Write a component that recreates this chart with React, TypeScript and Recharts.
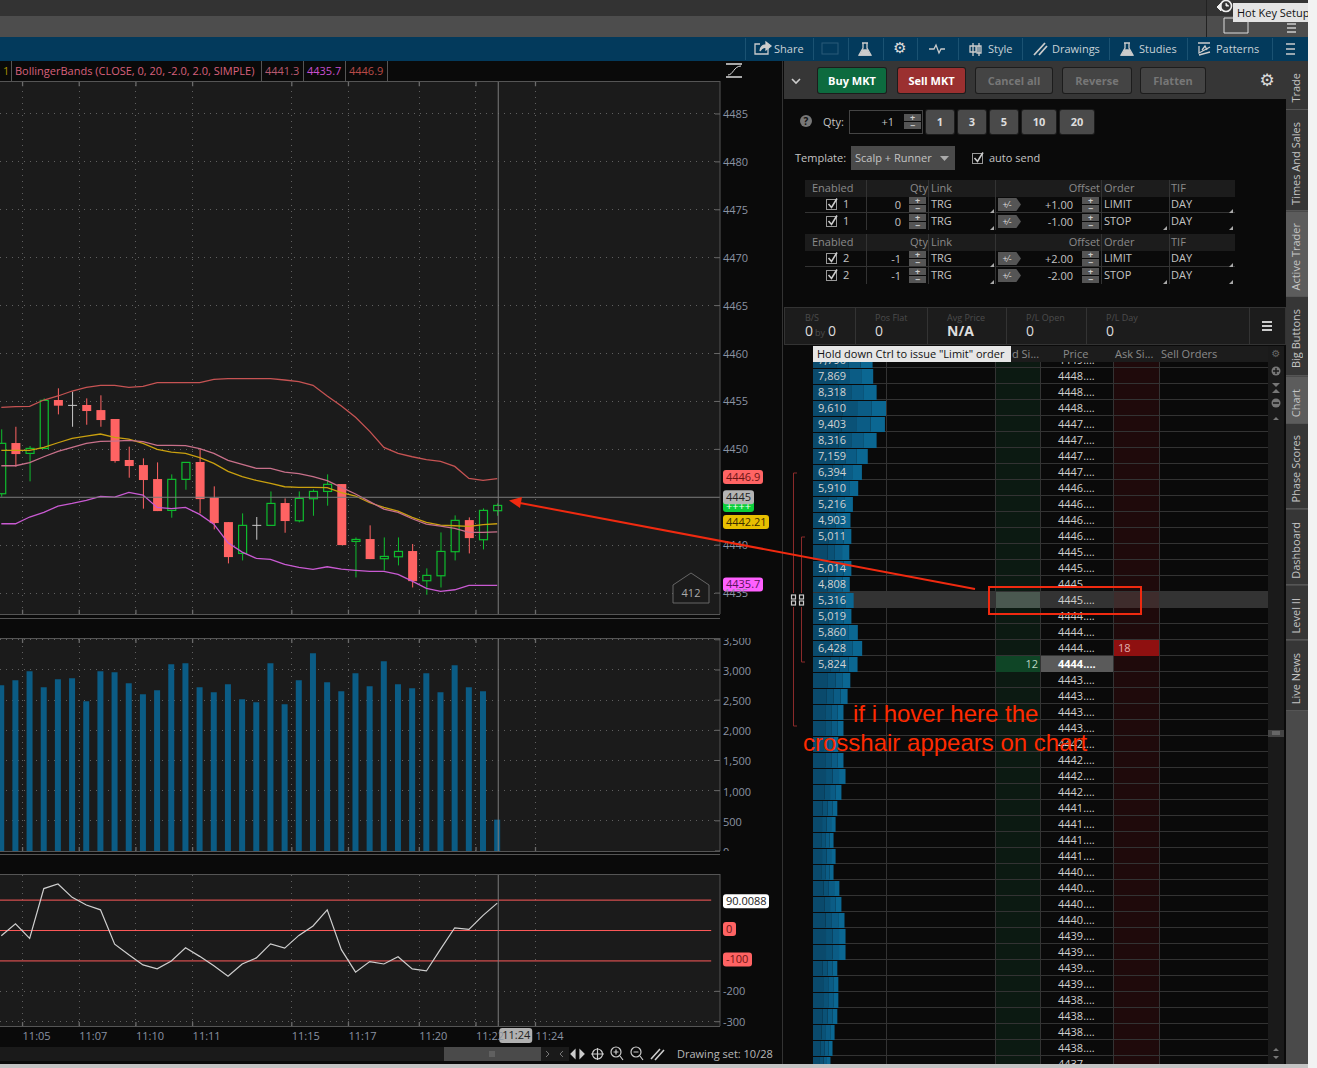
import React from "react";
import {
  Bar,
  BarChart,
  CartesianGrid,
  ComposedChart,
  Line,
  LineChart,
  ReferenceLine,
  XAxis,
  YAxis,
} from "recharts";

// candles
const opens = [4445.37, 4450.66, 4449.58, 4450.1, 4455.15, 4454.59, 4454.63, 4454.1, 4453.17, 4448.89, 4448.36, 4446.9, 4443.63, 4446.87, 4448.68, 4444.95, 4442.41, 4439.14, 4442.07, 4442.07, 4444.4, 4442.55, 4444.85, 4445.61, 4446.38, 4440.39, 4440.64, 4438.59, 4438.79, 4439.39, 4436.29, 4436.81, 4439.32, 4442.62, 4440.57, 4443.6];
const highs = [4452.09, 4452.36, 4450.35, 4455.32, 4456.37, 4456.02, 4455.32, 4455.64, 4453.17, 4450.28, 4449.06, 4448.64, 4447.39, 4448.64, 4450.1, 4446.14, 4442.41, 4443.32, 4442.94, 4445.61, 4444.88, 4445.61, 4445.82, 4447.39, 4446.38, 4440.81, 4442.07, 4440.81, 4440.81, 4440.12, 4437.58, 4441.33, 4443.11, 4442.9, 4443.84, 4444.36];
const lows = [4445.06, 4448.19, 4446.66, 4450.03, 4453.65, 4452.36, 4452.57, 4452.36, 4448.61, 4447.04, 4443.81, 4443.56, 4442.87, 4445.79, 4443.32, 4441.65, 4438.1, 4438.41, 4440.57, 4442.07, 4441.3, 4442.38, 4443.07, 4444.12, 4440.01, 4436.64, 4438.55, 4437.37, 4437.89, 4435.59, 4434.83, 4435.59, 4438.41, 4439.14, 4439.56, 4443.07];
const closes = [4450.63, 4449.51, 4450.1, 4455.11, 4454.56, 4454.59, 4454.0, 4453.06, 4448.78, 4448.26, 4446.8, 4443.56, 4446.87, 4448.64, 4444.81, 4442.31, 4438.76, 4442.07, 4442.07, 4444.36, 4442.52, 4444.88, 4445.61, 4446.35, 4440.01, 4440.6, 4438.55, 4438.83, 4439.35, 4436.25, 4436.85, 4439.35, 4442.59, 4440.74, 4443.63, 4444.15];

const upperBand = [4454.38, 4454.45, 4454.49, 4455.15, 4455.57, 4456.09, 4456.47, 4456.68, 4456.68, 4456.47, 4456.58, 4456.96, 4456.96, 4456.96, 4456.96, 4457.31, 4457.38, 4457.38, 4457.38, 4457.38, 4457.24, 4457.06, 4456.68, 4455.57, 4454.52, 4453.34, 4451.88, 4450.21, 4449.58, 4449.23, 4448.92, 4448.75, 4448.22, 4446.97, 4446.76, 4446.94];
const midBand = [4448.29, 4448.29, 4448.61, 4449.23, 4449.79, 4450.21, 4450.63, 4450.83, 4450.87, 4450.94, 4450.8, 4450.42, 4450.42, 4450.38, 4450.07, 4449.58, 4448.85, 4448.43, 4448.02, 4448.02, 4447.63, 4447.46, 4447.15, 4446.73, 4446.03, 4445.34, 4444.54, 4443.77, 4443.42, 4442.76, 4442.2, 4442.0, 4441.75, 4441.33, 4441.33, 4441.4];
const lowerBand = [4442.24, 4442.24, 4442.94, 4443.42, 4444.08, 4444.36, 4444.68, 4445.09, 4445.02, 4445.51, 4445.23, 4443.94, 4443.81, 4443.94, 4443.21, 4442.2, 4440.26, 4439.28, 4438.62, 4438.52, 4437.99, 4437.68, 4437.47, 4437.75, 4437.51, 4437.37, 4437.26, 4437.26, 4436.95, 4436.25, 4435.49, 4435.18, 4435.35, 4435.8, 4435.8, 4435.8];
const avgLine = [4449.89, 4449.89, 4449.89, 4450.21, 4450.69, 4451.15, 4451.39, 4451.6, 4451.25, 4451.08, 4450.63, 4450.0, 4449.72, 4449.58, 4449.13, 4448.54, 4447.7, 4447.15, 4446.76, 4446.45, 4446.1, 4446.03, 4446.03, 4446.0, 4445.48, 4445.13, 4444.43, 4443.94, 4443.56, 4442.9, 4442.38, 4442.1, 4442.03, 4441.96, 4442.14, 4442.24];

const volumes = [2746, 2829, 2979, 2713, 2846, 2863, 2481, 2979, 2962, 2780, 2597, 2663, 3095, 3112, 2713, 2630, 2763, 2514, 2464, 3112, 2431, 2829, 3278, 2796, 2647, 2946, 2730, 3145, 2763, 2696, 2946, 2630, 3079, 2713, 2647, 520];
const cciValues = [-17, 22, -26, 138, 153, 109, 84, 68, -45, -80, -113, -126, -100, -57, -85, -116, -150, -110, -90, -44, -58, -16, 15, 68, -63, -137, -102, -110, -86, -126, -133, -61, 9, 4, 50, 90.01];

const timeTicks = [1.5, 5.5, 9.5, 13.5, 20.5, 24.5, 29.5, 33.5, 37.7];
const timeLabels = ["11:05", "11:07", "11:10", "11:11", "11:15", "11:17", "11:20", "11:22", "11:24"];
const priceTicks = [4435, 4440, 4450, 4455, 4460, 4465, 4470, 4475, 4480, 4485];
const volumeTicks = [0, 500, 1000, 1500, 2000, 2500, 3000, 3500];
const cciTicks = [-300, -200];

// order book ladder, top row first
const depthValues = [7790, 7869, 8318, 9610, 9403, 8316, 7159, 6394, 5910, 5216, 4903, 5011, 4746, 5014, 4808, 5316, 5019, 5860, 6428, 5824, 4880, 4522, 3985, 3985, 3313, 3985, 4253, 3716, 3179, 2955, 2686, 2955, 2686, 3447, 3716, 4119, 4253, 4253, 3179, 3313, 3313, 3179, 2821, 2552, 2283];
const depthLabels = ["7,790", "7,869", "8,318", "9,610", "9,403", "8,316", "7,159", "6,394", "5,910", "5,216", "4,903", "5,011", "", "5,014", "4,808", "5,316", "5,019", "5,860", "6,428", "5,824"];
const ladderPrices = ["4449", "4448", "4448", "4448", "4447", "4447", "4447", "4447", "4446", "4446", "4446", "4446", "4445", "4445", "4445", "4445", "4444", "4444", "4444", "4444", "4443", "4443", "4443", "4443", "4442", "4442", "4442", "4442", "4441", "4441", "4441", "4441", "4440", "4440", "4440", "4440", "4439", "4439", "4439", "4439", "4438", "4438", "4438", "4438", "4437"];

const candleData = opens.map((open, i) => ({
  i,
  open,
  high: highs[i],
  low: lows[i],
  close: closes[i],
  upper: upperBand[i],
  mid: midBand[i],
  lower: lowerBand[i],
  avg: avgLine[i],
}));
const volumeData = volumes.map((v, i) => ({ i, v }));
const cciData = cciValues.map((v, i) => ({ i, v }));
const depthData = depthValues.map((v, k) => ({ k, v }));

const X_DOMAIN: [number, number] = [-0.092, 50.72];
const STUDY_LINE_END = 50.1;
const CURSOR_X = 35.07;
const PRICE_DOMAIN: [number, number] = [4432.82, 4488.44];
const VOLUME_DOMAIN: [number, number] = [0, 3530];
const CCI_DOMAIN: [number, number] = [-314, 185.9];
const FONT = "'Open Sans', sans-serif";
const AXIS_TEXT = "#8a93a3";
const GRID = "#606060";
const TICK = "#6a6a6a";
const PANEL = "#1b1b1b";
const LINE = "#555";

// the tick marks sit inside the plot, to the left of the axis line
const axisTick =
  (format: (v: number) => string, dy = 4) =>
  ({ x, y, payload }: any) =>
    (
      <g>
        <line x1={x - 8} x2={x - 3} y1={y} y2={y} stroke={TICK} />
        <text x={x} y={y + dy} fontSize={11} fontFamily={FONT} fill={AXIS_TEXT}>
          {format(payload.value)}
        </text>
      </g>
    );

// dotted time guides plus short stubs on the panel edges; stub lengths are in axis units
const timeGuides = (domain: [number, number], topStub: number, bottomStub: number) =>
  timeTicks.map((t) => (
    <React.Fragment key={t}>
      <ReferenceLine x={t} stroke={GRID} strokeDasharray="1 5" shapeRendering="crispEdges" />
      {topStub > 0 && (
        <ReferenceLine
          segment={[
            { x: t, y: domain[1] },
            { x: t, y: domain[1] - topStub },
          ]}
          stroke={TICK}
          strokeWidth={1.3}
        />
      )}
      {bottomStub > 0 && (
        <ReferenceLine
          segment={[
            { x: t, y: domain[0] },
            { x: t, y: domain[0] + bottomStub },
          ]}
          stroke={TICK}
          strokeWidth={1.3}
        />
      )}
    </React.Fragment>
  ));

function CandleShape(props: any) {
  const { x, y, width, height, payload } = props;
  const unit = height / (payload.high - payload.low);
  const cx = x + width / 2;
  const top = y + (payload.high - Math.max(payload.open, payload.close)) * unit;
  const bottom = y + (payload.high - Math.min(payload.open, payload.close)) * unit;
  const isDoji = payload.open === payload.close;
  const isUp = payload.close > payload.open;
  const color = isDoji ? "#c8c8c8" : isUp ? "#0fbd2e" : "#ff6363";
  return (
    <g>
      <line x1={cx} x2={cx} y1={y} y2={y + height} stroke={color} strokeWidth={1} />
      {isDoji ? (
        <line x1={x} x2={x + width} y1={top} y2={top} stroke={color} strokeWidth={1} />
      ) : isUp ? (
        <rect x={x + 0.5} y={top} width={width - 1} height={bottom - top} fill={PANEL} stroke={color} strokeWidth={1.2} />
      ) : (
        <rect x={x} y={top} width={width} height={bottom - top} fill={color} />
      )}
    </g>
  );
}

// depth bars get darker towards the left
function DepthShape(props: any) {
  const { x, y, width, height } = props;
  const parts = [
    [0, 0.4, "#0a4a6c"],
    [0.4, 0.2, "#0a5277"],
    [0.6, 0.2, "#0b5c85"],
    [0.8, 0.2, "#0b6792"],
  ] as const;
  return (
    <g>
      {parts.map(([from, w, fill]) => (
        <rect key={from} x={x + from * width} y={y} width={w * width} height={height} fill={fill} />
      ))}
    </g>
  );
}

const badge =
  (text: string, bg: string, fg: string, w: number, dy = 0, h = 14) =>
  ({ viewBox }: any) => {
    const bx = viewBox.x + viewBox.width + 3;
    const by = viewBox.y + dy;
    return (
      <g>
        <rect x={bx} y={by - h / 2} width={w} height={h} rx={3} fill={bg} />
        <text x={bx + 3} y={by + 4} fontSize={11} fontFamily={FONT} fill={fg}>
          {text}
        </text>
      </g>
    );
  };

function TimeTick({ x, y, payload }: any) {
  return (
    <text x={x} y={y + 12} fontSize={11} fontFamily={FONT} fill={AXIS_TEXT}>
      {timeLabels[timeTicks.indexOf(payload.value)]}
    </text>
  );
}

function CursorBadge({ viewBox }: any) {
  return (
    <g>
      <rect x={viewBox.x + 1} y={viewBox.y + viewBox.height + 2} width={33} height={15} rx={3} fill="#b0b0b0" />
      <text x={viewBox.x + 4} y={viewBox.y + viewBox.height + 13} fontSize={11} fontFamily={FONT} fill="#222">
        11:24
      </text>
    </g>
  );
}

const gridProps = {
  stroke: GRID,
  strokeDasharray: "1 5",
  shapeRendering: "crispEdges",
  vertical: false,
};

function PriceChart() {
  return (
    <ComposedChart width={782} height={533} data={candleData} margin={{ top: 0, right: 0, bottom: 0, left: 0 }}>
      <CartesianGrid {...gridProps} />
      <XAxis dataKey="i" type="number" domain={X_DOMAIN} ticks={timeTicks} hide allowDataOverflow />
      <YAxis orientation="right" width={62} domain={PRICE_DOMAIN} ticks={priceTicks} interval={0} tick={axisTick(String)} tickSize={3} tickMargin={0} tickLine={false} axisLine={{ stroke: LINE }} allowDataOverflow />
      {timeGuides(PRICE_DOMAIN, 0.55, 0.45)}
      <Bar dataKey={(d: any) => [d.low, d.high]} barSize={9} shape={CandleShape} isAnimationActive={false} />
      <Line dataKey="upper" stroke="#c65353" strokeWidth={1.3} dot={false} isAnimationActive={false} />
      <Line dataKey="avg" stroke="#c9a00f" strokeWidth={1.3} dot={false} isAnimationActive={false} />
      <Line dataKey="mid" stroke="#c8708a" strokeWidth={1.3} dot={false} isAnimationActive={false} />
      <Line dataKey="lower" stroke="#c95ad2" strokeWidth={1.3} dot={false} isAnimationActive={false} />
      <ReferenceLine x={CURSOR_X} stroke="#7c7c7c" />
      <ReferenceLine y={4444.15} stroke="none" label={badge("++++", "#0bcf3a", "#f0fff0", 31, 0.5, 12)} />
      <ReferenceLine y={4445} stroke="#7c7c7c" label={badge("4445", "#b4b4b4", "#222", 31)} />
      <ReferenceLine y={4446.9} stroke="none" label={badge("4446.9", "#ff6464", "#6e1414", 40, -2)} />
      <ReferenceLine y={4442.21} stroke="none" label={badge("4442.21", "#e8c000", "#3a2c00", 46, -2)} />
      <ReferenceLine y={4435.7} stroke="none" label={badge("4435.7", "#ff60ff", "#5a145a", 40, -2)} />
    </ComposedChart>
  );
}

function VolumeChart() {
  return (
    <BarChart width={782} height={213} data={volumeData} margin={{ top: 0, right: 0, bottom: 0, left: 0 }}>
      <CartesianGrid {...gridProps} />
      <XAxis dataKey="i" type="number" domain={X_DOMAIN} ticks={timeTicks} hide allowDataOverflow />
      <YAxis orientation="right" width={62} domain={VOLUME_DOMAIN} ticks={volumeTicks} interval={0} tick={axisTick((v) => v.toLocaleString("en-US"), 5)} tickSize={3} tickMargin={0} tickLine={false} axisLine={{ stroke: LINE }} allowDataOverflow />
      {timeGuides(VOLUME_DOMAIN, 83, 66)}
      <Bar dataKey="v" barSize={6} fill="#0b5c85" isAnimationActive={false} />
      <ReferenceLine x={CURSOR_X} stroke="#7c7c7c" />
    </BarChart>
  );
}

const studyLine = (y: number): any => [
  { x: X_DOMAIN[0], y },
  { x: STUDY_LINE_END, y },
];

function CciChart() {
  return (
    <LineChart width={782} height={172} data={cciData} margin={{ top: 0, right: 0, bottom: 0, left: 0 }}>
      <CartesianGrid {...gridProps} />
      <XAxis dataKey="i" type="number" domain={X_DOMAIN} ticks={timeTicks} interval={0} height={20} tick={TimeTick} axisLine={false} tickLine={false} tickSize={0} allowDataOverflow />
      <YAxis orientation="right" width={62} domain={CCI_DOMAIN} ticks={cciTicks} interval={0} tick={axisTick(String)} tickSize={3} tickMargin={0} tickLine={false} axisLine={{ stroke: LINE }} allowDataOverflow />
      {timeGuides(CCI_DOMAIN, 0, 13)}
      <ReferenceLine segment={studyLine(100)} stroke="#ff5a5a" />
      <ReferenceLine segment={studyLine(0)} stroke="#ff5a5a" />
      <ReferenceLine segment={studyLine(-100)} stroke="#ff5a5a" />
      <ReferenceLine y={0} stroke="none" label={badge("0", "#ff6363", "#6e1414", 13, -1.5)} />
      <ReferenceLine y={-100} stroke="none" label={badge("-100", "#ff6363", "#6e1414", 29, -1.5)} />
      <ReferenceLine y={90.01} stroke="none" label={badge("90.0088", "#fff", "#222", 46, -2)} />
      <Line dataKey="v" stroke="#cfcfcf" strokeWidth={1.2} dot={false} isAnimationActive={false} />
      <ReferenceLine x={CURSOR_X} stroke="#7c7c7c" label={CursorBadge} />
    </LineChart>
  );
}

function DepthChart() {
  return (
    <BarChart layout="vertical" width={76.5} height={720} data={depthData} barCategoryGap={0} margin={{ top: 0, right: 0, bottom: 0, left: 0 }}>
      <XAxis type="number" domain={[0, 10000]} hide allowDataOverflow />
      <YAxis type="category" dataKey="k" hide />
      <Bar dataKey="v" barSize={15} shape={DepthShape} isAnimationActive={false} />
    </BarChart>
  );
}

// plain page furniture
function Box({ x, y, w, h, bg, style, children }: any) {
  return <div style={{ position: "absolute", left: x, top: y, width: w, height: h, background: bg, ...style }}>{children}</div>;
}

function Txt({ x, y, c = "#c4c4c4", size = 11, bold, right, center, font, children, style }: any) {
  const pos: any = right !== undefined ? { right: 1317 - right } : { left: x };
  const tx = center ? "translate(-50%,-50%)" : "translateY(-50%)";
  return (
    <div
      style={{
        position: "absolute",
        top: y - 1,
        ...pos,
        transform: tx,
        color: c,
        fontSize: size,
        fontWeight: bold ? 700 : 400,
        fontFamily: font || FONT,
        whiteSpace: "nowrap",
        lineHeight: 1,
        ...style,
      }}
    >
      {children}
    </div>
  );
}

function Btn({ x, y, w, h, bg, c, label, size = 11 }: any) {
  return (
    <>
      <Box x={x} y={y} w={w} h={h} bg={bg} style={{ borderRadius: 2, boxShadow: "0 0 0 1px #1c1c1c" }} />
      <Txt x={x + w / 2} y={y + h / 2} center c={c} bold size={size}>
        {label}
      </Txt>
    </>
  );
}

function Stepper({ x, y, w = 17 }: any) {
  return (
    <>
      <Box x={x} y={y} w={w} h={7} bg="#555" />
      <Box x={x} y={y + 8} w={w} h={7} bg="#555" />
      <Txt x={x + w / 2} y={y + 4} center size={9} bold c="#ccc">+</Txt>
      <Txt x={x + w / 2} y={y + 12} center size={9} bold c="#ccc">−</Txt>
    </>
  );
}

function Corner({ x, y }: any) {
  return <Box x={x} y={y} w={4} h={4} bg="#aaa" style={{ clipPath: "polygon(100% 0,100% 100%,0 100%)" }} />;
}

function Check({ x, y }: any) {
  return (
    <svg style={{ position: "absolute", left: x, top: y }} width={14} height={14}>
      <rect x={0.5} y={2.5} width={10} height={10} fill="none" stroke="#999" />
      <path d="M2.5 7 L5.5 10.5 L11 1.5" fill="none" stroke="#ccc" strokeWidth={1.6} />
    </svg>
  );
}

const orderRows = [
  { y: 204, n: "1", qty: "0", offset: "+1.00", order: "LIMIT" },
  { y: 221, n: "1", qty: "0", offset: "-1.00", order: "STOP" },
  { y: 258, n: "2", qty: "-1", offset: "+2.00", order: "LIMIT" },
  { y: 275, n: "2", qty: "-1", offset: "-2.00", order: "STOP" },
];
const tableHeads = [180, 234];
const columnLines = [866, 928, 995, 1101, 1169];

function OrderTable() {
  return (
    <>
      {tableHeads.map((y) => (
        <React.Fragment key={y}>
          <Box x={805} y={y} w={430} h={17} bg="#1c1c1c" />
          <Txt x={812} y={y + 8} c="#8a8a8a">Enabled</Txt>
          <Txt right={928} y={y + 8} c="#8a8a8a">Qty</Txt>
          <Txt x={931} y={y + 8} c="#8a8a8a">Link</Txt>
          <Txt right={1100} y={y + 8} c="#8a8a8a">Offset</Txt>
          <Txt x={1104} y={y + 8} c="#8a8a8a">Order</Txt>
          <Txt x={1171} y={y + 8} c="#8a8a8a">TIF</Txt>
          {columnLines.map((x) => (
            <Box key={x} x={x} y={y} w={1} h={50} bg="#333" />
          ))}
          <Box x={805} y={y + 32} w={430} h={1} bg="#333" />
        </React.Fragment>
      ))}
      {orderRows.map((r) => (
        <React.Fragment key={r.y}>
          <Check x={826} y={r.y - 7} />
          <Txt x={843} y={r.y}>{r.n}</Txt>
          <Txt right={901} y={r.y + 1}>{r.qty}</Txt>
          <Stepper x={909} y={r.y - 7} />
          <Txt x={931} y={r.y}>TRG</Txt>
          <Corner x={990} y={r.y + 5} />
          <Box x={998} y={r.y - 6} w={23} h={13} bg="#555" style={{ clipPath: "polygon(0 0,80% 0,100% 50%,80% 100%,0 100%)" }} />
          <Txt x={1007} y={r.y + 1} center size={9} c="#ddd">+⁄-</Txt>
          <Txt right={1073} y={r.y + 1}>{r.offset}</Txt>
          <Stepper x={1082} y={r.y - 7} />
          <Txt x={1104} y={r.y}>{r.order}</Txt>
          {r.order === "STOP" && <Corner x={1163} y={r.y + 5} />}
          <Txt x={1171} y={r.y}>DAY</Txt>
          <Corner x={1229} y={r.y + 5} />
        </React.Fragment>
      ))}
    </>
  );
}

function Ladder() {
  return (
    <>
      <Box x={813} y={346} w={455} h={16} bg="#1c1c1c" />
      <Txt x={1012} y={354} c="#8a8a8a">d Si...</Txt>
      <Txt x={1063} y={354} c="#8a8a8a">Price</Txt>
      <Txt x={1115} y={354} c="#8a8a8a">Ask Si...</Txt>
      <Txt x={1161} y={354} c="#8a8a8a">Sell Orders</Txt>
      <Box x={813} y={362} w={455} h={702} bg="#0a0a0a" style={{ overflow: "hidden" }}>
        <Box x={182} y={0} w={45} h={702} bg="#0c1a12" />
        <Box x={300} y={0} w={46} h={702} bg="#1f0a0b" />
        {depthValues.map((_, k) => (
          <Box key={k} x={0} y={-10 + 16 * k} w={455} h={16} style={{ borderBottom: "1px solid #333", boxSizing: "border-box" }} />
        ))}
        <Box x={0} y={230} w={455} h={16} bg="#333" />
        <Box x={182} y={230} w={45} h={16} bg="#4a5850" />
        <Box x={300} y={230} w={46} h={16} bg="#3e2c2c" />
        <Box x={301} y={278} w={45} h={16} bg="#8f1010" />
        <Box x={182} y={294} w={45} h={16} bg="#0f4526" />
        <Box x={228} y={294} w={72} h={16} bg="#5a5a5a" />
        <div style={{ position: "absolute", left: 0, top: -10 }}>
          <DepthChart />
        </div>
        {[73, 182, 227, 300, 346].map((x) => (
          <Box key={x} x={x} y={0} w={1} h={702} bg="#333" />
        ))}
        {depthLabels.map((t, k) => (
          <Txt key={k} x={5} y={-2 + 16 * k} c="#d2d2d2">{t}</Txt>
        ))}
        {ladderPrices.map((p, k) => (
          <Txt key={k} x={245} y={-2 + 16 * k} bold={k === 19} c={k === 19 ? "#fff" : "#cfcfcf"}>{p + "...."}</Txt>
        ))}
        <Txt x={305} y={286} c="#e0b0b0">18</Txt>
        <Txt right={225 + 1317 - 455} y={302} c="#bcd8c4">12</Txt>
      </Box>
      <Box x={813} y={346} w={198} h={16} bg="#e6e6e6" />
      <Txt x={817} y={354} c="#111">Hold down Ctrl to issue "Limit" order</Txt>
    </>
  );
}

const sideTabs = [
  { label: "Trade", top: 61, h: 49 },
  { label: "Times And Sales", top: 110, h: 101 },
  { label: "Active Trader", top: 212, h: 85, active: true },
  { label: "Big Buttons", top: 297, h: 79 },
  { label: "Chart", top: 377, h: 47, active: true },
  { label: "Phase Scores", top: 424, h: 85 },
  { label: "Dashboard", top: 510, h: 75 },
  { label: "Level II", top: 586, h: 54 },
  { label: "Live News", top: 641, h: 70 },
];

function SideTabs() {
  return (
    <>
      <Box x={1286} y={61} w={22} h={1003} bg="#4a4a4a" />
      {sideTabs.map((t) => (
        <Box key={t.label} x={1286} y={t.top} w={22} h={t.h} bg={t.active ? "#5c5c5c" : "#363636"} style={{ borderBottom: "1px solid #555", boxSizing: "border-box", display: "flex", alignItems: "center", justifyContent: "center", paddingTop: 6, paddingRight: 3 }}>
          <span style={{ writingMode: "vertical-rl", transform: "rotate(180deg)", color: "#c4c4c4", fontFamily: FONT, fontSize: 11, whiteSpace: "nowrap" }}>{t.label}</span>
        </Box>
      ))}
    </>
  );
}

const toolbarSeps = [745, 813, 848, 883, 917, 958, 1022, 1109, 1187, 1272];
const toolbarLabels = [
  { x: 774, t: "Share" },
  { x: 988, t: "Style" },
  { x: 1052, t: "Drawings" },
  { x: 1139, t: "Studies" },
  { x: 1216, t: "Patterns" },
];
const panelLines = [81, 614, 618, 638, 851, 854, 874, 1026];
const legendCells = [
  { x: 3, t: "1", c: "#a89000" },
  { x: 15, t: "BollingerBands (CLOSE, 0, 20, -2.0, 2.0, SIMPLE)", c: "#d8607c" },
  { x: 265, t: "4441.3", c: "#b85a70" },
  { x: 307, t: "4435.7", c: "#c850d0" },
  { x: 349, t: "4446.9", c: "#b84a48" },
];
const legendLines = [11, 261, 303, 345, 387];
const qtyButtons = [
  { x: 926, w: 28, t: "1" },
  { x: 958, w: 28, t: "3" },
  { x: 990, w: 28, t: "5" },
  { x: 1022, w: 34, t: "10" },
  { x: 1060, w: 34, t: "20" },
];
const posCells = [
  { x: 805, head: "B/S" },
  { x: 875, head: "Pos Flat", val: "0" },
  { x: 947, head: "Avg Price", val: "N/A", bold: true },
  { x: 1026, head: "P/L Open", val: "0" },
  { x: 1106, head: "P/L Day", val: "0" },
];

function Icons() {
  return (
    <svg width={1317} height={1068} style={{ position: "absolute", left: 0, top: 0 }}>
      {/* chart top right */}
      <g stroke="#ddd" fill="none">
        <path d="M726 64 H742 M726 77 H742" strokeWidth={1.4} />
        <path d="M728 75 C733 75 734 66 741 66" />
      </g>
      {/* toolbar */}
      <g stroke="#ccc" fill="none" strokeWidth={1.3}>
        <path d="M768 47 V54 H755 V44 H760" />
        <path d="M760 51 C760 47 763 45 766 45 V42 L771 46 L766 50 V47 C763 47 761 49 760 51 Z" fill="#ccc" />
        <path d="M862 43 H868 M863 43 V48 L859 55 H871 L867 48 V43" />
        <path d="M860 55 L863 50 H867 L870 55 Z" fill="#ccc" />
        <path d="M929 49 H934 L936 45 L939 53 L941 49 H945" />
        <path d="M973 43 V56 M973 46 H970 V52 H976 V46 Z" />
        <path d="M979 43 V56 M977 46 H981 V53 H977 Z" />
        <path d="M1034 55 L1045 43 M1039 55 L1047 46" strokeWidth={1.8} />
        <path d="M1124 43 H1130 M1125 43 V48 L1121 55 H1133 L1129 48 V43" />
        <path d="M1122 55 L1125 50 H1129 L1132 55 Z" fill="#ccc" />
        <path d="M1198 43 H1210 M1199 46 V53 L1210 47 M1199 55 L1210 52 M1202 50 L1205 46 L1207 50" />
        <path d="M1286 44 H1295 M1286 49 H1295 M1286 54 H1295" strokeWidth={1.6} />
      </g>
      <rect x={822} y={43} width={16} height={11} fill="none" stroke="#2a5a78" />
      <path d="M1224 18 H1248 V33 H1224 Z" fill="none" stroke="#ddd" />
      <path d="M1287 24 H1296 M1287 28 H1296 M1287 32 H1296" stroke="#ccc" strokeWidth={1.4} />
      <circle cx={1226} cy={6} r={5.5} fill="none" stroke="#eee" strokeWidth={1.6} />
      <path d="M1226 3 V6 H1229 M1217 7 L1221 3 L1221 11 Z" stroke="#eee" fill="#eee" />
      {/* brackets next to the ladder */}
      <g stroke="#8a2a2a" fill="none">
        <path d="M797 473 H793.5 V593 M793.5 607 V726 H797" />
        <path d="M805 537 H801.5 V593 M801.5 607 V662 H805" />
      </g>
      <g stroke="#ccc" fill="none" strokeWidth={1.2}>
        <rect x={791.5} y={595} width={4} height={4} />
        <rect x={791.5} y={601} width={4} height={4} />
        <rect x={799.5} y={595} width={4} height={4} />
        <rect x={799.5} y={601} width={4} height={4} />
      </g>
      {/* ladder side column */}
      <g fill="#777">
        <circle cx={1276} cy={371} r={4.5} />
        <circle cx={1276} cy={403} r={4.5} />
        <path d="M1272 383 H1280 L1276 387 Z M1272 393 H1280 L1276 389 Z M1273 420 H1279 L1276 417 Z" />
        <path d="M1273 1051 H1279 L1276 1048 Z M1273 1056 H1279 L1276 1059 Z" />
      </g>
      <path d="M1273 371 H1279 M1276 368 V374 M1273 403 H1279" stroke="#1a1a1a" strokeWidth={1.4} />
      <rect x={1268} y={730} width={16} height={7} fill="#444" />
      <path d="M1272 732 H1280 M1272 734 H1280" stroke="#888" />
      {/* price tag */}
      <path d="M673 603 V585 L691 573 L709 585 V603 Z" fill={PANEL} stroke="#666" />
      <text x={691} y={597} textAnchor="middle" fontSize={11} fontFamily={FONT} fill="#aaa">412</text>
      {/* chart footer */}
      <path d="M490 1051 V1057 M492 1051 V1057 M494 1051 V1057" stroke="#777" />
      <path d="M549 1054 L546 1051 M549 1054 L546 1057 M560 1054 L563 1051 M560 1054 L563 1057" stroke="#777" />
      <g stroke="#ccc" fill="none" strokeWidth={1.2}>
        <circle cx={597.5} cy={1054} r={5} />
        <path d="M591 1054 H604 M597.5 1048 V1060" />
        <circle cx={616} cy={1052} r={5} />
        <path d="M620 1056 L623 1060 M613.5 1052 H618.5 M616 1049.5 V1054.5" />
        <circle cx={636} cy={1052} r={5} />
        <path d="M640 1056 L643 1060 M633.5 1052 H638.5" />
        <path d="M651 1059 L660 1049 M655 1060 L664 1050" strokeWidth={1.6} />
        <path d="M571 1054 L575 1050 V1058 Z M584 1054 L580 1050 V1058 Z" fill="#ccc" />
      </g>
    </svg>
  );
}

function Annotation() {
  return (
    <svg width={1317} height={1068} style={{ position: "absolute", left: 0, top: 0 }}>
      <line x1={975} y1={589} x2={520} y2={503} stroke="#f02a10" strokeWidth={2} />
      <path d="M509 500.5 L522 497 L520 508 Z" fill="#f02a10" />
      <rect x={989} y={587} width={152} height={27} fill="none" stroke="#f02a10" strokeWidth={2} />
      <text x={853} y={722} fontSize={24} fontFamily="'Liberation Sans', Arial, sans-serif" fill="#ff2a00">if i hover here the</text>
      <text x={803} y={751} fontSize={24} fontFamily="'Liberation Sans', Arial, sans-serif" fill="#ff2a00">crosshair appears on chart</text>
    </svg>
  );
}

export default function App() {
  return (
    <div style={{ position: "absolute", left: 0, top: 0, width: 1317, height: 1068, overflow: "hidden", background: "#0a0a0a", fontFamily: FONT }}>
      {/* window chrome */}
      <Box x={0} y={0} w={1308} h={16} bg="#333" />
      <Box x={0} y={16} w={1308} h={21} bg="#4d4d4d" />
      <Box x={0} y={37} w={1308} h={24} bg="#033a5c" />
      <Box x={1206} y={0} w={1} h={37} bg="#222" />
      {toolbarSeps.map((x) => (
        <Box key={x} x={x} y={38} w={1} h={22} bg="#1b5272" />
      ))}
      {toolbarLabels.map((l) => (
        <Txt key={l.t} x={l.x} y={49} c="#c8d2d8">{l.t}</Txt>
      ))}
      <Txt x={900} y={49} center size={15} c="#ddd" font="'DejaVu Sans'">⚙</Txt>
      <Box x={1233} y={3} w={75} h={19} bg="#e4e4e4" style={{ overflow: "hidden" }}>
        <Txt x={4} y={10} c="#111">Hot Key Setup</Txt>
      </Box>

      {/* chart legend row */}
      <Box x={0} y={61} w={783} h={1003} bg="#0a0a0a" />
      {legendCells.map((l) => (
        <Txt key={l.x} x={l.x} y={71} c={l.c}>{l.t}</Txt>
      ))}
      {legendLines.map((x) => (
        <Box key={x} x={x} y={61} w={1} h={20} bg={LINE} />
      ))}
      <Box x={782} y={61} w={1} h={1003} bg="#333" />

      {/* chart panels */}
      <Box x={0} y={81} w={720} h={533} bg={PANEL} />
      <Box x={0} y={638} w={720} h={213} bg={PANEL} />
      <Box x={0} y={874} w={720} h={152} bg={PANEL} />
      <div style={{ position: "absolute", left: 0, top: 81 }}>
        <PriceChart />
      </div>
      <div style={{ position: "absolute", left: 0, top: 638 }}>
        <VolumeChart />
      </div>
      <div style={{ position: "absolute", left: 0, top: 874 }}>
        <CciChart />
      </div>
      {panelLines.map((y) => (
        <Box key={y} x={0} y={y} w={720} h={1} bg={LINE} />
      ))}

      {/* chart footer */}
      <Box x={0} y={1047} w={444} h={14} bg="#1a1a1a" />
      <Box x={444} y={1047} w={97} h={14} bg="#4a4a4a" />
      <Box x={541} y={1047} w={28} h={14} bg="#1a1a1a" />
      <Txt x={677} y={1054} c="#b8b8b8">Drawing set: 10/28</Txt>

      {/* order entry */}
      <Box x={784} y={61} w={502} h={38} bg="#363636" />
      <svg style={{ position: "absolute", left: 791, top: 78 }} width={10} height={7}>
        <path d="M1 1 L5 5 L9 1" fill="none" stroke="#ccc" strokeWidth={1.6} />
      </svg>
      <Btn x={818} y={68} w={68} h={25} bg="#0d6b3f" c="#fff" label="Buy MKT" />
      <Btn x={898} y={68} w={67} h={25} bg="#9b3030" c="#fff" label="Sell MKT" />
      <Btn x={976} y={68} w={76} h={25} bg="#444" c="#777" label="Cancel all" />
      <Btn x={1063} y={68} w={68} h={25} bg="#444" c="#777" label="Reverse" />
      <Btn x={1141} y={68} w={64} h={25} bg="#444" c="#777" label="Flatten" />
      <Txt x={1267} y={81} center size={17} c="#ddd" font="'DejaVu Sans'">⚙</Txt>
      <Txt x={806} y={122} center size={10} bold c="#111" style={{ background: "#777", borderRadius: 6, width: 12, height: 12, lineHeight: "12px", textAlign: "center" }}>?</Txt>
      <Txt x={823} y={122}>Qty:</Txt>
      <Box x={849} y={110} w={74} h={24} bg="#0a0a0a" style={{ border: "1px solid #444", boxSizing: "border-box" }} />
      <Txt right={894} y={122}>+1</Txt>
      <Stepper x={904} y={114} />
      {qtyButtons.map((b) => (
        <Btn key={b.x} x={b.x} y={110} w={b.w} h={24} bg="#4a4a4a" c="#ddd" label={b.t} />
      ))}
      <Txt x={795} y={158}>Template:</Txt>
      <Box x={851} y={146} w={104} h={24} bg="#4a4a4a" />
      <Txt x={855} y={158}>Scalp + Runner</Txt>
      <Box x={940} y={156} w={9} h={5} bg="#aaa" style={{ clipPath: "polygon(0 0,100% 0,50% 100%)" }} />
      <Check x={972} y={151} />
      <Txt x={989} y={158}>auto send</Txt>
      <OrderTable />

      {/* position bar */}
      <Box x={784} y={307} w={502} h={38} bg="#1c1c1c" style={{ border: "1px solid #333", boxSizing: "border-box" }} />
      {[855, 927, 1006, 1086, 1249].map((x) => (
        <Box key={x} x={x} y={308} w={1} h={36} bg="#333" />
      ))}
      {posCells.map((p) => (
        <React.Fragment key={p.x}>
          <Txt x={p.x} y={318} size={9} c="#4c4c4c">{p.head}</Txt>
          {p.val && <Txt x={p.x} y={332} size={14} bold={p.bold} c="#ddd">{p.val}</Txt>}
        </React.Fragment>
      ))}
      <Txt x={805} y={332} size={14} c="#ddd">0</Txt>
      <Txt x={815} y={333} size={9} c="#4c4c4c">by</Txt>
      <Txt x={828} y={332} size={14} c="#ddd">0</Txt>
      <Box x={1262} y={321} w={10} h={1.5} bg="#ccc" />
      <Box x={1262} y={325} w={10} h={1.5} bg="#ccc" />
      <Box x={1262} y={329} w={10} h={1.5} bg="#ccc" />

      {/* ladder */}
      <Box x={1268} y={346} w={16} h={718} bg="#1a1a1a" />
      <Txt x={1276} y={355} center size={10} c="#666" font="'DejaVu Sans'">⚙</Txt>
      <Ladder />
      <SideTabs />

      <Box x={0} y={1064} w={1317} h={4} bg="#c4c4c4" />
      <Box x={1308} y={0} w={9} h={1068} bg="#f2f2f2" />
      <Icons />
      <Annotation />
    </div>
  );
}
